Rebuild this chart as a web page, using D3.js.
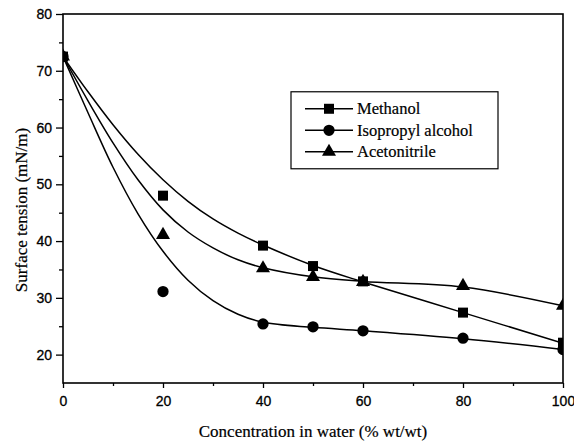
<!DOCTYPE html>
<html>
<head>
<meta charset="utf-8">
<script src="https://cdn.jsdelivr.net/npm/d3@7"></script>
<style>
  body { margin: 0; background: #fff; }
  svg { display: block; }
  .tick text { font-family: "Liberation Sans", Arial, sans-serif; font-size: 14px; fill: #000; stroke: #000; stroke-width: 0.3px; }
  .title { font-family: "Liberation Serif", "Times New Roman", serif; font-size: 17px; fill: #000; stroke: #000; stroke-width: 0.2px; }
  .legend text { font-family: "Liberation Serif", "Times New Roman", serif; font-size: 16.5px; fill: #000; stroke: #000; stroke-width: 0.2px; }
</style>
</head>
<body>
<div id="chart"></div>
<script>
// measured points
const concentration = [0, 20, 40, 50, 60, 80, 100];
const methanol = [72.5, 48.0, 39.2, 35.6, 32.9, 27.4, 22.1];
const isopropyl = [72.5, 31.1, 25.4, 24.9, 24.2, 22.9, 20.9];
const acetonitrile = [72.5, 41.1, 35.2, 33.7, 32.8, 32.1, 28.6];

// fitted curves
const fitX = [0, 5, 10, 15, 20, 25, 30, 35, 40, 50, 60, 80, 100];
const methanolFit = [72.5, 66.3, 60.5, 55.3, 50.8, 47.0, 43.9, 41.4, 39.3, 35.7, 32.8, 27.4, 22.0];
const isopropylFit = [72.5, 62.6, 53.0, 44.8, 38.2, 33.1, 29.5, 27.1, 25.7, 24.8, 24.2, 22.8, 20.9];
const acetonitrileFit = [72.5, 64.7, 57.3, 50.8, 45.5, 41.6, 38.8, 36.7, 35.3, 33.7, 32.9, 31.9, 28.6];

const seriesNames = ['Methanol', 'Isopropyl alcohol', 'Acetonitrile'];
const xTicks = [0, 20, 40, 60, 80, 100];
const xMinor = [10, 30, 50, 70, 90];
const yTicks = [20, 30, 40, 50, 60, 70, 80];
const yMinor = [25, 35, 45, 55, 65, 75];

(function() {
  let width = 574;
  let height = 446;
  let margin = { left: 63, right: 11, top: 14, bottom: 63 };
  let w = width - margin.left - margin.right;
  let h = height - margin.top - margin.bottom;

  let svg = d3.select('#chart')
    .append('svg')
    .attr('width', width)
    .attr('height', height);

  let x = d3.scaleLinear().domain([0, 100]).range([0, w]);
  let y = d3.scaleLinear().domain([15, 80]).range([h, 0]);

  let g = svg.append('g')
    .attr('transform', `translate(${margin.left},${margin.top})`);

  svg.append('defs').append('clipPath').attr('id', 'plotclip')
    .append('rect').attr('width', w).attr('height', h);

  // axes
  let xAxis = g.append('g')
    .attr('transform', `translate(0,${h})`)
    .call(d3.axisBottom(x).tickValues(xTicks).tickSize(5).tickPadding(6).tickFormat(d3.format('d')));
  g.append('g')
    .attr('transform', `translate(0,${h})`)
    .call(d3.axisBottom(x).tickValues(xMinor).tickSize(3).tickFormat(''));
  g.append('g')
    .call(d3.axisLeft(y).tickValues(yTicks).tickSize(7).tickPadding(4).tickFormat(d3.format('d')));
  g.append('g')
    .call(d3.axisLeft(y).tickValues(yMinor).tickSize(4).tickFormat(''));
  g.selectAll('.domain').remove();
  g.selectAll('.tick line').attr('stroke', '#000').attr('stroke-width', 1.3);
  xAxis.selectAll('.tick text').attr('dy', '0.85em');

  // frame
  g.append('rect')
    .attr('width', w)
    .attr('height', h)
    .attr('fill', 'none')
    .attr('stroke', '#000')
    .attr('stroke-width', 1.6);

  let plot = g.append('g').attr('clip-path', 'url(#plotclip)');

  let line = d3.line()
    .x(d => x(d[0]))
    .y(d => y(d[1]))
    .curve(d3.curveCatmullRom.alpha(0.5));

  let fits = [methanolFit, isopropylFit, acetonitrileFit];
  fits.forEach(f => {
    plot.append('path')
      .datum(fitX.map((c, i) => [c, f[i]]))
      .attr('d', line)
      .attr('fill', 'none')
      .attr('stroke', '#000')
      .attr('stroke-width', 1.5);
  });

  let symbols = [d3.symbolSquare, d3.symbolCircle, d3.symbolTriangle];
  let sizes = [100, 100, 85];
  let points = [methanol, isopropyl, acetonitrile];
  points.forEach((vals, k) => {
    plot.selectAll(null)
      .data(concentration.map((c, i) => [c, vals[i]]))
      .enter()
      .append('path')
      .attr('d', d3.symbol().type(symbols[k]).size(sizes[k]))
      .attr('transform', d => `translate(${x(d[0])},${y(d[1])})`)
      .attr('fill', '#000');
  });

  // legend
  let legend = g.append('g')
    .attr('class', 'legend')
    .attr('transform', `translate(${x(45.6)},${y(66.3)})`);
  legend.append('rect')
    .attr('width', 207)
    .attr('height', 77)
    .attr('fill', '#fff')
    .attr('stroke', '#000')
    .attr('stroke-width', 1.2);
  seriesNames.forEach((name, k) => {
    let row = legend.append('g').attr('transform', `translate(0,${17 + k * 21.5})`);
    row.append('line')
      .attr('x1', 14).attr('x2', 62)
      .attr('stroke', '#000').attr('stroke-width', 1.4);
    row.append('path')
      .attr('d', d3.symbol().type(symbols[k]).size(sizes[k]))
      .attr('transform', 'translate(38,0)')
      .attr('fill', '#000');
    row.append('text')
      .attr('x', 66)
      .attr('dy', '0.33em')
      .text(name);
  });

  // titles
  svg.append('text')
    .attr('class', 'title')
    .attr('x', margin.left + w / 2)
    .attr('y', 437)
    .attr('text-anchor', 'middle')
    .text('Concentration in water (% wt/wt)');
  svg.append('text')
    .attr('class', 'title')
    .attr('transform', 'translate(27,210) rotate(-90)')
    .attr('text-anchor', 'middle')
    .text('Surface tension (mN/m)');
})();
</script>
</body>
</html>
